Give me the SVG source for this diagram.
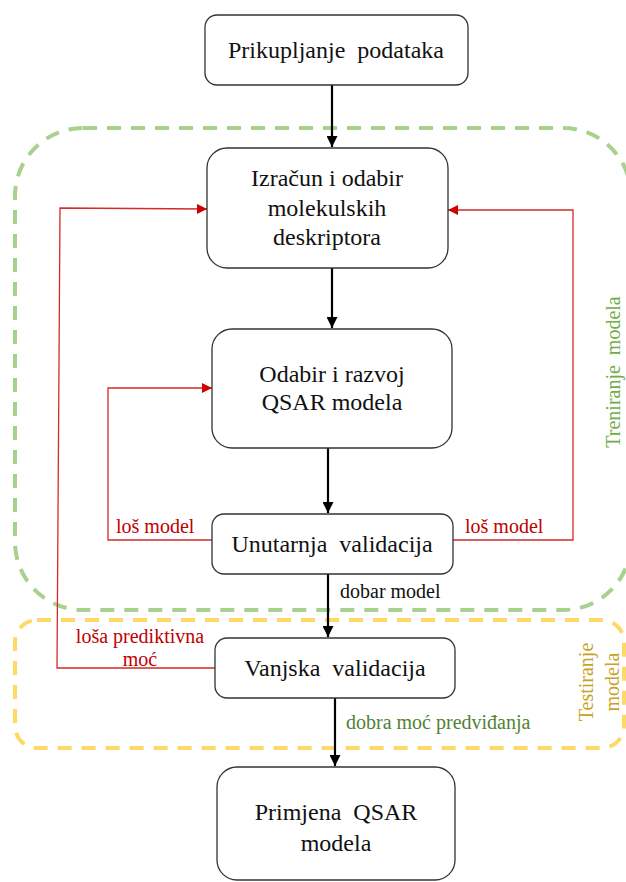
<svg xmlns="http://www.w3.org/2000/svg" width="626" height="882" viewBox="0 0 626 882">
<style>
.box{fill:#fff;stroke:#333;stroke-width:1.3}
.t{font-family:'Liberation Serif','Times New Roman','DejaVu Serif',serif;font-size:24px;fill:#111;text-anchor:middle;white-space:pre}
.lbl{font-family:'Liberation Serif','Times New Roman','DejaVu Serif',serif;font-size:20px;white-space:pre}
.red{fill:none;stroke:#D42A2A;stroke-width:1.3}
.blk{fill:none;stroke:#000;stroke-width:2.2}
</style>
<defs>
<marker id="ab" viewBox="0 0 10 10" refX="10" refY="5" markerWidth="5" markerHeight="5" orient="auto"><path d="M0,0L10,5L0,10z" fill="#000"/></marker>
<marker id="ar" viewBox="0 0 10 10" refX="10" refY="5" markerWidth="8" markerHeight="8" orient="auto"><path d="M0,0L10,5L0,10z" fill="#D00000"/></marker>
</defs>
<rect fill="#fff" width="626" height="882"/>
<g id="groups">
<rect x="15" y="128" width="616" height="482" rx="68" fill="none" stroke="#A9D18E" stroke-width="4" stroke-dasharray="14,10"/>
<rect x="15" y="620" width="609" height="128" rx="22" fill="none" stroke="#FFD966" stroke-width="4" stroke-dasharray="14,10"/>
<text class="lbl" transform="translate(620,372) rotate(-90)" text-anchor="middle" fill="#70AD47" xml:space="preserve">Treniranje  modela</text>
<text class="lbl" transform="translate(593,682) rotate(-90)" text-anchor="middle" fill="#C9A227">Testiranje</text>
<text class="lbl" transform="translate(619,682) rotate(-90)" text-anchor="middle" fill="#C9A227">modela</text>
</g>
<g id="connectors">
<line class="blk" x1="332" y1="85" x2="332" y2="147" marker-end="url(#ab)"/>
<line class="blk" x1="332" y1="268" x2="332" y2="328" marker-end="url(#ab)"/>
<line class="blk" x1="328" y1="448" x2="328" y2="513" marker-end="url(#ab)"/>
<line class="blk" x1="328" y1="574" x2="328" y2="637" marker-end="url(#ab)"/>
<line class="blk" x1="335" y1="698" x2="335" y2="766" marker-end="url(#ab)"/>
<polyline class="red" points="215,668 57,668 60,208 207,209" marker-end="url(#ar)"/>
<polyline class="red" points="212,540 108,540 108,388 212,388" marker-end="url(#ar)"/>
<polyline class="red" points="453,540 573,540 573,210 448,210" marker-end="url(#ar)"/>
<text class="lbl" x="116" y="533" fill="#C00000">loš model</text>
<text class="lbl" x="465" y="533" fill="#C00000">loš model</text>
<text class="lbl" x="140" y="643" fill="#C00000" text-anchor="middle">loša prediktivna</text>
<text class="lbl" x="140" y="666" fill="#C00000" text-anchor="middle">moć</text>
<text class="lbl" x="340" y="598" fill="#111">dobar model</text>
<text class="lbl" x="346" y="729" fill="#538135">dobra moć predviđanja</text>
</g>
<g id="n1"><rect class="box" x="205" y="15" width="263" height="70" rx="12"/><text class="t" x="336" y="58" xml:space="preserve">Prikupljanje  podataka</text></g>
<g id="n2"><rect class="box" x="207" y="148" width="241" height="120" rx="20"/><text class="t" x="327" y="186">Izračun i odabir</text><text class="t" x="327" y="216">molekulskih</text><text class="t" x="327" y="245">deskriptora</text></g>
<g id="n3"><rect class="box" x="212" y="329" width="240" height="119" rx="20"/><text class="t" x="332" y="382">Odabir i razvoj</text><text class="t" x="332" y="410">QSAR modela</text></g>
<g id="n4"><rect class="box" x="212" y="514" width="241" height="60" rx="12"/><text class="t" x="332" y="552" xml:space="preserve">Unutarnja  validacija</text></g>
<g id="n5"><rect class="box" x="215" y="638" width="240" height="60" rx="12"/><text class="t" x="335" y="676" xml:space="preserve">Vanjska  validacija</text></g>
<g id="n6"><rect class="box" x="217" y="767" width="238" height="113" rx="20"/><text class="t" x="336" y="820" xml:space="preserve">Primjena  QSAR</text><text class="t" x="336" y="851">modela</text></g>
</svg>
